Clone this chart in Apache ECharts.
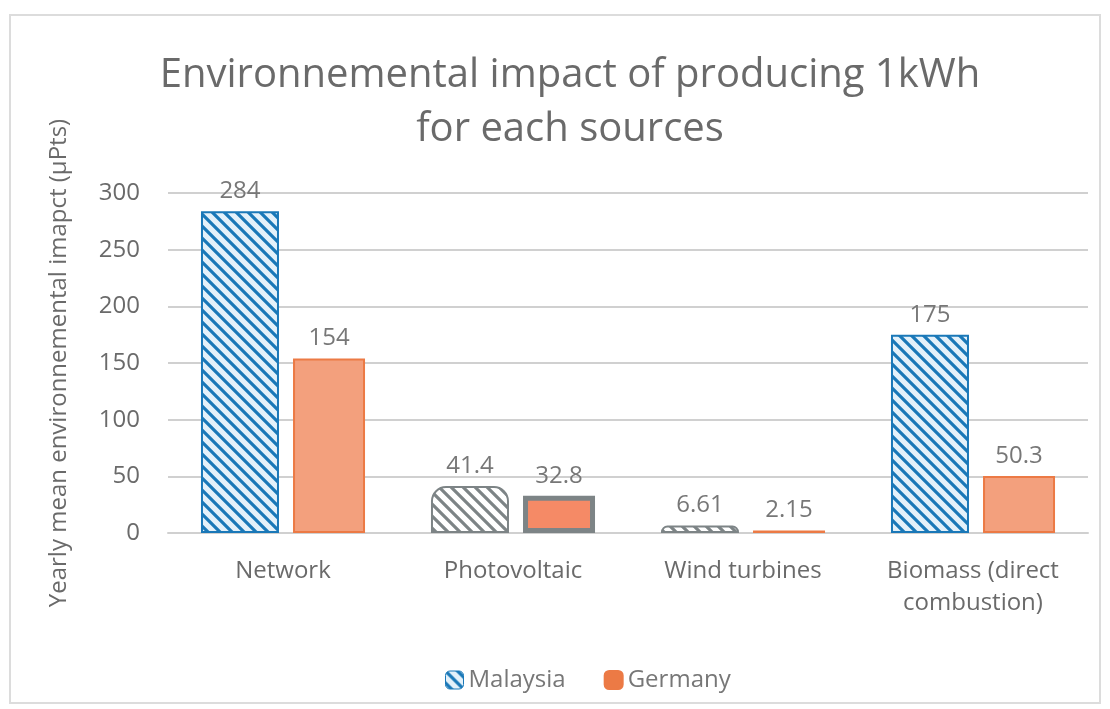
<!DOCTYPE html>
<html><head><meta charset="utf-8">
<script src="https://cdn.jsdelivr.net/npm/echarts@6/dist/echarts.min.js"></script>
<style>html,body{margin:0;padding:0;background:#fff}#c{width:1110px;height:709px}</style>
</head><body><div id="c"></div>
<script>
const categories = ['Network', 'Photovoltaic', 'Wind turbines', 'Biomass (direct\ncombustion)'];
const malaysia = [284, 41.4, 6.61, 175];
const germany = [154, 32.8, 2.15, 50.3];
const yTicks = [0, 50, 100, 150, 200, 250, 300];

function hatch(line, bg) {
  const c = document.createElement('canvas');
  c.width = 12; c.height = 12;
  const g = c.getContext('2d');
  g.fillStyle = bg; g.fillRect(0, 0, 12, 12);
  g.strokeStyle = line; g.lineWidth = 3.2; g.lineCap = 'square';
  g.beginPath();
  g.moveTo(-6, -6); g.lineTo(18, 18);
  g.moveTo(-6, 6); g.lineTo(6, 18);
  g.moveTo(6, -6); g.lineTo(18, 6);
  g.stroke();
  return { image: c, repeat: 'repeat' };
}
const blueHatch = hatch('#1a78b8', '#e4f1fa');
const greyHatch = hatch('#7d8486', '#ffffff');

const chart = echarts.init(document.getElementById('c'));
const font = 'Open Sans';
const txt = '#6a6a6a';
chart.setOption({
  animation: false,
  textStyle: { fontFamily: font },
  title: {
    text: 'Environnemental impact of producing 1kWh\nfor each sources',
    left: 565, top: 44, textAlign: 'center',
    textStyle: { fontSize: 40, fontWeight: 'normal', color: txt, lineHeight: 54, fontFamily: font }
  },
  graphic: [{ type: 'rect', shape: { x: 10, y: 15, width: 1090, height: 688 }, style: { fill: 'none', stroke: '#dcdcdc', lineWidth: 2 }, silent: true }],
  legend: {
    bottom: 12, left: 440, itemWidth: 18, itemHeight: 18, itemGap: 38,
    textStyle: { fontSize: 24, color: '#777', fontFamily: font },
    data: [
      { name: 'Malaysia', itemStyle: { color: blueHatch, borderColor: '#1a78b8', borderWidth: 1 } },
      { name: 'Germany', itemStyle: { color: '#ec7a45', borderColor: '#ec7a45' } }
    ]
  },
  grid: { left: 168, right: 22, top: 193, bottom: 176, containLabel: false },
  xAxis: {
    type: 'category', data: categories,
    axisLine: { show: true, lineStyle: { color: '#d0d0d0', width: 2 } },
    axisTick: { show: false },
    axisLabel: { fontSize: 24, color: txt, margin: 22, lineHeight: 32, fontFamily: font }
  },
  yAxis: {
    type: 'value', min: 0, max: 300, interval: 50,
    name: 'Yearly mean environnemental imapct (µPts)',
    nameLocation: 'middle', nameGap: 97, nameRotate: 90,
    nameTextStyle: { fontSize: 24, color: txt, fontFamily: font },
    axisLine: { show: false }, axisTick: { show: false },
    axisLabel: { fontSize: 24, color: txt, margin: 28, fontFamily: font,
      formatter: v => yTicks.includes(v) ? String(v) : '' },
    splitLine: { lineStyle: { color: '#d0d0d0', width: 2 } }
  },
  series: [
    {
      name: 'Malaysia', type: 'bar', barWidth: 78, barGap: '18%',
      itemStyle: { color: blueHatch, borderColor: '#1a78b8', borderWidth: 2 },
      label: { show: true, position: 'top', distance: 8, fontSize: 24, color: '#777', fontFamily: font },
      data: malaysia.map((v, i) => (i === 1 || i === 2)
        ? { value: v, itemStyle: { color: greyHatch, borderColor: '#7d8486', borderWidth: 2, borderRadius: [14, 14, 0, 0] } }
        : v)
    },
    {
      name: 'Germany', type: 'bar', barWidth: 72,
      itemStyle: { color: '#f3a07d', borderColor: '#ec7a45', borderWidth: 2 },
      label: { show: true, position: 'top', distance: 8, fontSize: 24, color: '#777', fontFamily: font },
      data: germany.map((v, i) => i === 1
        ? { value: v, itemStyle: { color: '#f58a66', borderColor: '#7d8486', borderWidth: 5 } }
        : v)
    }
  ]
});
</script></body></html>
